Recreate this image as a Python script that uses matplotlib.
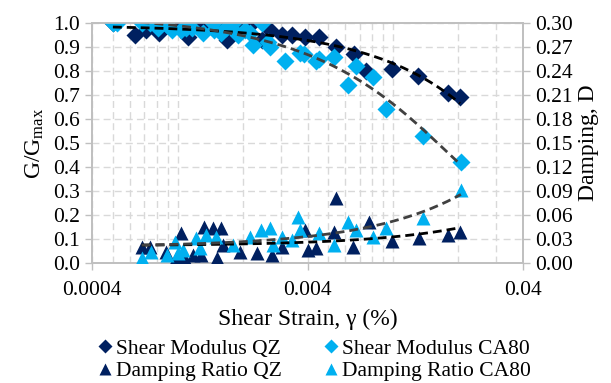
import matplotlib.pyplot as plt
import numpy as np
from matplotlib.lines import Line2D
from matplotlib.ticker import FixedLocator, NullFormatter

plt.rcParams['font.family'] = ['Liberation Serif', 'DejaVu Serif']
plt.rcParams['mathtext.default'] = 'regular'

navy = '#002060'
cyan = '#00B0F0'
grey_line = '#404040'
grid_c = '#D9D9D9'
spine_c = '#BFBFBF'

# shear modulus ratio G/Gmax vs strain (%)
g_qz_x = [0.00050, 0.00063, 0.00071, 0.00082, 0.00103, 0.00112, 0.00123, 0.00134,
          0.00158, 0.00170, 0.00195, 0.00222, 0.00247, 0.00269, 0.00306, 0.00340,
          0.00390, 0.00450, 0.00540, 0.00660, 0.00750, 0.00990, 0.01300, 0.01790,
          0.02040]
g_qz_y = [1.00, 0.95, 0.97, 0.96, 0.99, 0.94, 1.00, 0.98,
          1.00, 0.93, 0.97, 1.00, 0.93, 0.97, 0.95, 0.95,
          0.94, 0.94, 0.90, 0.87, 0.80, 0.81, 0.78, 0.71,
          0.69]

g_ca_x = [0.00050, 0.00052, 0.00068, 0.00074, 0.00081, 0.00089, 0.00094, 0.00103,
          0.00109, 0.00117, 0.00131, 0.00145, 0.00148, 0.00158, 0.00168, 0.00181,
          0.00191, 0.00206, 0.00217, 0.00223, 0.00247, 0.00261, 0.00269, 0.00316,
          0.00371, 0.00387, 0.00436, 0.00450, 0.00529, 0.00614, 0.00669, 0.00802,
          0.00922, 0.01370, 0.02060]
g_ca_y = [1.00, 1.00, 1.00, 1.00, 0.98, 0.99, 0.97, 0.97,
          0.98, 0.98, 0.96, 1.00, 0.97, 0.96, 0.98, 1.00,
          0.95, 0.97, 0.96, 0.91, 1.00, 0.92, 0.90, 0.84,
          0.875, 0.87, 0.84, 0.85, 0.86, 0.74, 0.82, 0.775,
          0.64, 0.53, 0.42]

# damping ratio D vs strain (%)
d_qz_x = [0.00068, 0.00074, 0.00088, 0.00098, 0.00103, 0.00107, 0.00118, 0.00128,
          0.00133, 0.00146, 0.00152, 0.00163, 0.00159, 0.00195, 0.00234, 0.00275,
          0.00306, 0.00390, 0.00404, 0.00440, 0.00530, 0.00540, 0.00650, 0.00770,
          0.00990, 0.01320, 0.01790, 0.02040]
d_qz_y = [0.020, 0.020, 0.014, 0.006, 0.0375, 0.0075, 0.010, 0.010,
          0.045, 0.044, 0.006, 0.0225, 0.044, 0.014, 0.0125, 0.010,
          0.020, 0.041, 0.016, 0.019, 0.039, 0.081, 0.020, 0.051,
          0.0275, 0.031, 0.035, 0.039]

d_ca_x = [0.00068, 0.00075, 0.00089, 0.00097, 0.00100, 0.00106, 0.00121, 0.00127,
          0.00135, 0.00151, 0.00181, 0.00217, 0.00243, 0.00269, 0.00278, 0.00306,
          0.00340, 0.00360, 0.00371, 0.00450, 0.00529, 0.00614, 0.00669, 0.00802,
          0.00922, 0.01370, 0.02060]
d_ca_y = [0.006, 0.014, 0.010, 0.026, 0.0125, 0.016, 0.031, 0.019,
          0.035, 0.0325, 0.0225, 0.0325, 0.041, 0.044, 0.0225, 0.0325,
          0.029, 0.0575, 0.041, 0.0375, 0.0225, 0.051, 0.041, 0.0325,
          0.044, 0.056, 0.091]

fig = plt.figure(figsize=(6.11, 3.83), dpi=100)
ax = fig.add_axes([0.1506, 0.3133, 0.7054, 0.6267])
ax2 = ax.twinx()

ms = 9.5
ax.plot(g_qz_x, g_qz_y, 'D', color=navy, ms=ms, mec='none', zorder=3)
ax.plot(g_ca_x, g_ca_y, 'D', color=cyan, ms=ms, mec='none', zorder=3)
ax2.plot(d_qz_x, d_qz_y, '^', color=navy, ms=ms, mec='none', zorder=3)
ax2.plot(d_ca_x, d_ca_y, '^', color=cyan, ms=ms, mec='none', zorder=3)


def trend(a, x, y, deg, color):
    x = np.array(x)
    c = np.polyfit(x, y, deg)
    xs = np.linspace(x.min(), x.max(), 200)
    a.plot(xs, np.polyval(c, xs), ls=(0, (3.2, 1.8)), color=color, lw=2.0, zorder=4)


trend(ax, g_qz_x, g_qz_y, 1, 'black')
trend(ax, g_ca_x, g_ca_y, 2, grey_line)
trend(ax2, d_qz_x, d_qz_y, 1, 'black')
trend(ax2, d_ca_x, d_ca_y, 2, grey_line)

ax.set_xscale('log')
ax.set_xlim(0.0004, 0.04)
ax.set_ylim(0, 1.0)
ax2.set_ylim(0, 0.30)

ax.xaxis.set_major_locator(FixedLocator([0.0004, 0.004, 0.04]))
ax.set_xticklabels(['0.0004', '0.004', '0.04'])
ax.xaxis.set_minor_locator(FixedLocator(
    [m * 10.0 ** e for e in (-4, -3, -2) for m in range(1, 10)
     if 0.0004 < m * 10.0 ** e < 0.04 and m != 4]))
ax.xaxis.set_minor_formatter(NullFormatter())
ax.set_yticks(np.arange(0, 1.01, 0.1))
ax.set_yticklabels([f'{v:.1f}' for v in np.arange(0, 1.01, 0.1)])
ax2.set_yticks(np.arange(0, 0.301, 0.03))
ax2.set_yticklabels([f'{v:.2f}' for v in np.arange(0, 0.301, 0.03)])

ax.grid(True, which='both', axis='x', color=grid_c, ls=(0, (5, 3)), lw=1.0)
ax.grid(True, which='major', axis='y', color=grid_c, ls=(0, (5, 3)), lw=1.0)
ax.set_axisbelow(True)

for a in (ax, ax2):
    for s in a.spines.values():
        s.set_color(spine_c)
        s.set_linewidth(1.2)
    a.tick_params(which='major', direction='out', length=5, width=1, color=spine_c,
                  labelsize=15.5, labelcolor='black')
ax.tick_params(which='minor', length=0)
ax.tick_params(axis='x', pad=8)

ax.set_xlabel('Shear Strain, γ (%)', fontsize=17, labelpad=6)
ax.set_ylabel(r'G/G$_{max}$', fontsize=17, labelpad=5)
ax2.set_ylabel('Damping, D', fontsize=17, rotation=90, labelpad=4)

# legend filled row by row
handles = [
    Line2D([], [], ls='none', marker='D', color=navy, ms=7, mec='none'),
    Line2D([], [], ls='none', marker='^', color=navy, ms=8, mec='none'),
    Line2D([], [], ls='none', marker='D', color=cyan, ms=7, mec='none'),
    Line2D([], [], ls='none', marker='^', color=cyan, ms=8, mec='none'),
]
labels = ['Shear Modulus QZ', 'Damping Ratio QZ', 'Shear Modulus CA80', 'Damping Ratio CA80']
fig.legend(handles, labels, ncol=2, loc='center', bbox_to_anchor=(0.515, 0.06),
           frameon=False, fontsize=15.5, handlelength=0.6, handletextpad=0.2,
           columnspacing=2.0, labelspacing=0.12, borderpad=0.1)

fig.savefig('out.png', dpi=100)
